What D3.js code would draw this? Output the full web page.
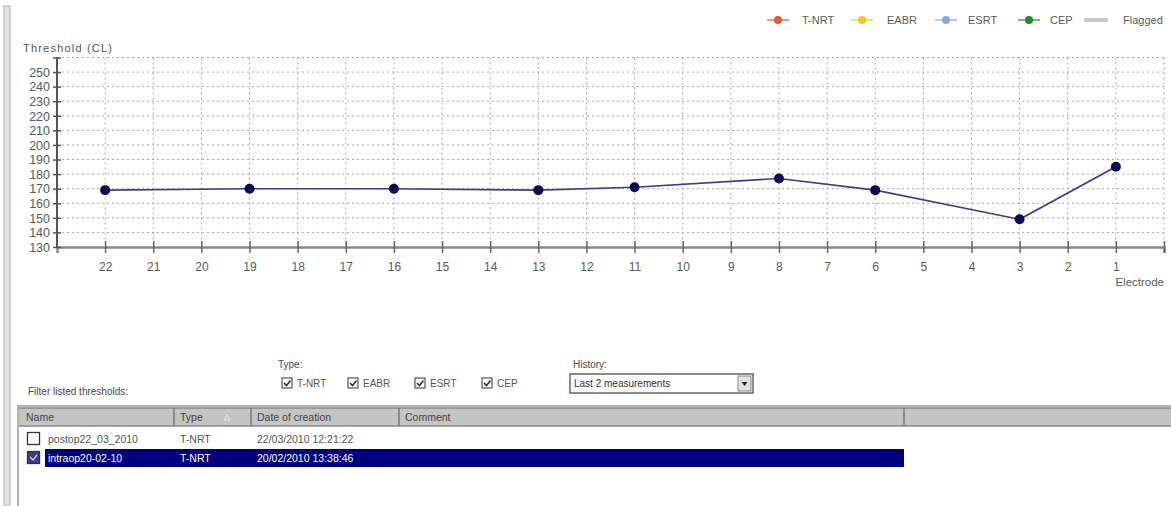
<!DOCTYPE html>
<html>
<head>
<meta charset="utf-8">
<script src="https://cdn.jsdelivr.net/npm/d3@7"></script>
<style>
  html, body { margin: 0; padding: 0; background: #fff; }
  svg { display: block; font-family: "Liberation Sans", Arial, sans-serif; }
</style>
</head>
<body>
<svg id="chart" width="1171" height="506"></svg>
<script>
// Threshold profile per electrode (selected measurement)
const electrodes = [22, 19, 16, 13, 11, 8, 6, 3, 1];
const thresholds = [169, 170, 170, 169, 171, 177, 169, 149, 185];

// Axis ticks
const electrodeTicks = d3.range(22, 0, -1);
const thresholdTicks = d3.range(130, 261, 10);

// Legend entries
const legendNames = ["T-NRT", "EABR", "ESRT", "CEP", "Flagged"];
const legendColors = ["#e2583a", "#f2c61c", "#8aa6e0", "#1e8c24", "#c8c8c8"];

// Filter controls
const typeNames = ["T-NRT", "EABR", "ESRT", "CEP"];
const historyChoice = "Last 2 measurements";

// Measurement list
const tableColumns = ["Name", "Type", "Date of creation", "Comment"];
const rowNames = ["postop22_03_2010", "intraop20-02-10"];
const rowTypes = ["T-NRT", "T-NRT"];
const rowDates = ["22/03/2010 12:21:22", "20/02/2010 13:38:46"];
const rowChecked = [false, true];

const svg = d3.select("#chart");

// ---- window frame on the left
svg.append("rect").attr("x", 4).attr("y", 6).attr("width", 6).attr("height", 500)
  .attr("fill", "#e4e4e4").attr("stroke", "#b0b0b0").attr("stroke-width", 1);

// ---- scales
const x = d3.scaleLinear().domain([23, 0]).range([57, 1164]);
const y = d3.scaleLinear().domain([130, 260]).range([247, 57.5]);

const plot = svg.append("g");

// grid
plot.append("g").selectAll("line").data(thresholdTicks.slice(1)).join("line")
  .attr("x1", x(23)).attr("x2", x(0))
  .attr("y1", d => y(d)).attr("y2", d => y(d))
  .attr("stroke", "#a8a8a8").attr("stroke-width", 1).attr("stroke-dasharray", "2,3");
plot.append("g").selectAll("line").data(electrodeTicks.concat([0])).join("line")
  .attr("x1", d => x(d)).attr("x2", d => x(d))
  .attr("y1", y(260)).attr("y2", y(130))
  .attr("stroke", "#a8a8a8").attr("stroke-width", 1).attr("stroke-dasharray", "2,3");

// x axis
const xAxis = d3.axisBottom(x).tickValues(electrodeTicks.concat([0]))
  .tickSize(6).tickPadding(9)
  .tickFormat(d => d === 0 ? "" : d);
const gx = plot.append("g").attr("transform", `translate(0,${y(130)})`).call(xAxis);
gx.select(".domain").attr("stroke", "#8a8a8a").attr("stroke-width", 2.5);
gx.selectAll(".tick line").attr("y1", -6).attr("stroke", "#666").attr("stroke-width", 1.5);
gx.selectAll(".tick text").attr("fill", "#5a5a5a").style("font-size", "12px");

// y axis
const yAxis = d3.axisLeft(y).tickValues(thresholdTicks)
  .tickSize(4).tickPadding(3)
  .tickFormat(d => d === 260 ? "" : d);
const gy = plot.append("g").attr("transform", `translate(${x(23)},0)`).call(yAxis);
gy.select(".domain").attr("stroke", "#555").attr("stroke-width", 2).attr("d", `M0,${y(260)}V${y(130)}`);
gy.selectAll(".tick line").attr("x2", 4).attr("x1", -4).attr("stroke", "#555").attr("stroke-width", 1.5);
gy.selectAll(".tick text").attr("fill", "#5a5a5a").style("font-size", "12.5px").attr("dy", "0.34em");

// axis titles
svg.append("text").attr("x", 23).attr("y", 52).attr("fill", "#555")
  .style("font-size", "11px").attr("textLength", 89).attr("lengthAdjust", "spacing")
  .text("Threshold (CL)");
svg.append("text").attr("x", 1164).attr("y", 286).attr("text-anchor", "end").attr("fill", "#5a5a5a")
  .style("font-size", "11.5px").text("Electrode");

// threshold series
const pts = electrodes.map((e, i) => [e, thresholds[i]]);
plot.append("path").datum(pts)
  .attr("fill", "none").attr("stroke", "#3c3c88").attr("stroke-width", 1.6)
  .attr("d", d3.line().x(d => x(d[0])).y(d => y(d[1])));
plot.append("g").selectAll("circle").data(pts).join("circle")
  .attr("cx", d => x(d[0])).attr("cy", d => y(d[1])).attr("r", 5)
  .attr("fill", "#0b0b55");

// ---- legend
const legendX = [778, 862, 946, 1029];
const legendTextX = [802, 887, 968, 1050, 1123];
const lg = svg.append("g");
legendNames.forEach((name, i) => {
  if (i < 4) {
    lg.append("line").attr("x1", legendX[i] - 11).attr("x2", legendX[i] + 11)
      .attr("y1", 20).attr("y2", 20).attr("stroke", legendColors[i]).attr("stroke-width", 2).attr("opacity", 0.6);
    lg.append("circle").attr("cx", legendX[i]).attr("cy", 20).attr("r", 4).attr("fill", legendColors[i]);
  } else {
    lg.append("rect").attr("x", 1084).attr("y", 18).attr("width", 24).attr("height", 4).attr("fill", legendColors[i]);
  }
  lg.append("text").attr("x", legendTextX[i]).attr("y", 24).attr("fill", "#5a5a5a")
    .style("font-size", "11px").text(name);
});

// ---- filter controls
const ui = svg.append("g").style("font-size", "10px").attr("fill", "#4a4a4a");
ui.append("text").attr("x", 28).attr("y", 395).text("Filter listed thresholds:");
ui.append("text").attr("x", 278).attr("y", 368).text("Type:");
const cbX = [282, 348, 415, 482];
typeNames.forEach((t, i) => {
  ui.append("rect").attr("x", cbX[i]).attr("y", 378).attr("width", 10).attr("height", 10)
    .attr("fill", "#fff").attr("stroke", "#555").attr("stroke-width", 1.2);
  ui.append("path").attr("d", `M${cbX[i] + 2},${383}l2.5,2.5l4,-5`)
    .attr("fill", "none").attr("stroke", "#333").attr("stroke-width", 1.6);
  ui.append("text").attr("x", cbX[i] + 15).attr("y", 387).attr("fill", "#555").text(t);
});
ui.append("text").attr("x", 573).attr("y", 368).text("History:");
ui.append("rect").attr("x", 570).attr("y", 374).attr("width", 183).attr("height", 19)
  .attr("fill", "#fff").attr("stroke", "#666").attr("stroke-width", 1.5);
ui.append("rect").attr("x", 738).attr("y", 376).attr("width", 13).attr("height", 15)
  .attr("fill", "#e0e0e0").attr("stroke", "#888");
ui.append("path").attr("d", "M741.5,382h6l-3,4z").attr("fill", "#222");
ui.append("text").attr("x", 574).attr("y", 387).attr("fill", "#333").text(historyChoice);

// ---- measurement list
const tb = svg.append("g").style("font-size", "10.5px");
tb.append("rect").attr("x", 18).attr("y", 406).attr("width", 1160).attr("height", 110)
  .attr("fill", "#fff").attr("stroke", "#9a9a9a").attr("stroke-width", 1.5);
tb.append("rect").attr("x", 19).attr("y", 408).attr("width", 1160).attr("height", 18)
  .attr("fill", "#c4c4c4");
tb.append("line").attr("x1", 19).attr("x2", 1171).attr("y1", 426).attr("y2", 426).attr("stroke", "#8a8a8a").attr("stroke-width", 1.5);
tb.append("line").attr("x1", 19).attr("x2", 1171).attr("y1", 408).attr("y2", 408).attr("stroke", "#8a8a8a").attr("stroke-width", 1.5);
const colX = [20, 174, 251, 399];
const colEnd = [174, 251, 399, 904];
colEnd.forEach(cx => {
  tb.append("line").attr("x1", cx).attr("x2", cx).attr("y1", 408).attr("y2", 426)
    .attr("stroke", "#777").attr("stroke-width", 1.5);
});
tableColumns.forEach((c, i) => {
  tb.append("text").attr("x", colX[i] + 6).attr("y", 421).attr("fill", "#444").text(c);
});
// sort indicator next to "Type"
tb.append("path").attr("d", "M224,420l3,-5l3,5z").attr("fill", "none").attr("stroke", "#e8e8e8");

const rowY = [439, 458];
rowNames.forEach((n, i) => {
  if (rowChecked[i]) {
    tb.append("rect").attr("x", 45).attr("y", rowY[i] - 9).attr("width", 859).attr("height", 18)
      .attr("fill", "#00007e");
  }
  tb.append("rect").attr("x", 27.5).attr("y", rowY[i] - 6.5).attr("width", 12).attr("height", 12)
    .attr("fill", rowChecked[i] ? "#3d3d8c" : "#fff").attr("stroke", "#333").attr("stroke-width", 1.3);
  if (rowChecked[i]) {
    tb.append("path").attr("d", `M${30},${rowY[i] - 1}l3,3l4,-5`)
      .attr("fill", "none").attr("stroke", "#c8c8e8").attr("stroke-width", 1.4);
  }
  const col = rowChecked[i] ? "#fff" : "#555";
  tb.append("text").attr("x", 48).attr("y", rowY[i] + 4).attr("fill", col).text(n);
  tb.append("text").attr("x", 180).attr("y", rowY[i] + 4).attr("fill", col).text(rowTypes[i]);
  tb.append("text").attr("x", 257).attr("y", rowY[i] + 4).attr("fill", col).text(rowDates[i]);
});
</script>
</body>
</html>
